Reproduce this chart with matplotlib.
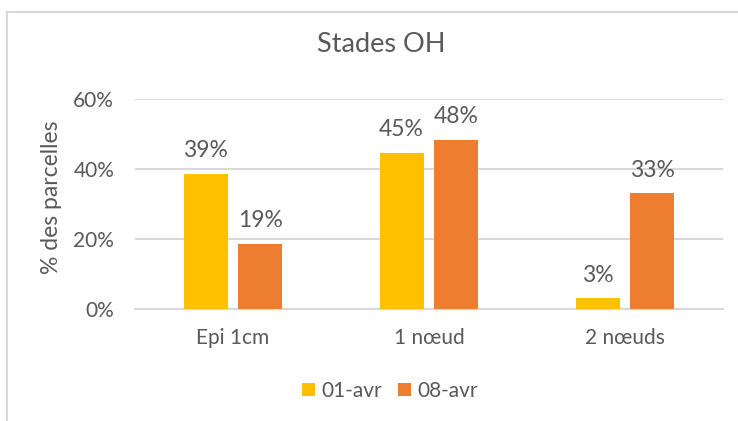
import matplotlib
matplotlib.use("Agg")
import matplotlib.pyplot as plt
import numpy as np
from matplotlib.lines import Line2D

categories = ["Epi 1cm", "1 nœud", "2 nœuds"]
series_names = ["01-avr", "08-avr"]
values_0104 = [0.386, 0.446, 0.031]
values_0804 = [0.186, 0.483, 0.331]
ytick_vals = [0.0, 0.2, 0.4, 0.6]
ytick_labels = ["0%", "20%", "40%", "60%"]

colors = ["#FFC000", "#ED7D31"]
txt = "#595959"
grid = "#D9D9D9"
plt.rcParams['font.family'] = ['Lato', 'DejaVu Sans']

W, H = 738, 421
fig = plt.figure(figsize=(W/100, H/100), dpi=100)
ax = fig.add_axes([135/W, 1-309/H, (723-135)/W, (309-99)/H])

# border
fig.add_artist(Line2D([7/W, 7/W], [0, 1-12/H], transform=fig.transFigure, color=grid, lw=1.5))
fig.add_artist(Line2D([7/W, 1], [1-12/H, 1-12/H], transform=fig.transFigure, color=grid, lw=1.5))

x = np.arange(len(categories))
bw = 0.225
off = 0.14
for i, (vals, name) in enumerate(zip([values_0104, values_0804], series_names)):
    pos = x + (-off if i == 0 else off)
    bars = ax.bar(pos, vals, width=bw, color=colors[i], label=name, zorder=3)
    for b, v in zip(bars, vals):
        ax.annotate(f"{round(v*100):.0f}%", (b.get_x()+b.get_width()/2, v),
                    xytext=(0, 9), textcoords="offset points", ha="center", va="bottom",
                    fontsize=16.5, color=txt)

ax.set_xlim(-0.5, len(categories)-0.5)
ax.set_ylim(0, 0.6)
ax.set_yticks(ytick_vals)
ax.set_yticklabels(ytick_labels)
ax.set_xticks(x)
ax.set_xticklabels(categories)
ax.tick_params(axis='y', length=0, pad=15, labelsize=15, labelcolor=txt)
ax.tick_params(axis='x', length=0, pad=14, labelsize=15, labelcolor=txt)
ax.grid(axis='y', color=grid, lw=1.5, zorder=0)
for s in ["top", "right", "left"]:
    ax.spines[s].set_visible(False)
ax.spines["bottom"].set_color(grid)
ax.spines["bottom"].set_linewidth(1.5)

fig.text(381/W, 1-45/H, "Stades OH", ha="center", va="center", fontsize=19.5, color=txt)
fig.text(52/W, 1-197/H, "% des parcelles", ha="center", va="center", rotation=90, fontsize=16.5, color=txt)

leg = fig.legend(loc="center", bbox_to_anchor=(390/W, 1-391/H), ncol=2, frameon=False,
                 fontsize=15, handlelength=0.6, handleheight=0.6, handletextpad=0.3,
                 columnspacing=0.8, labelcolor=txt)

fig.savefig("out.png", dpi=100)
